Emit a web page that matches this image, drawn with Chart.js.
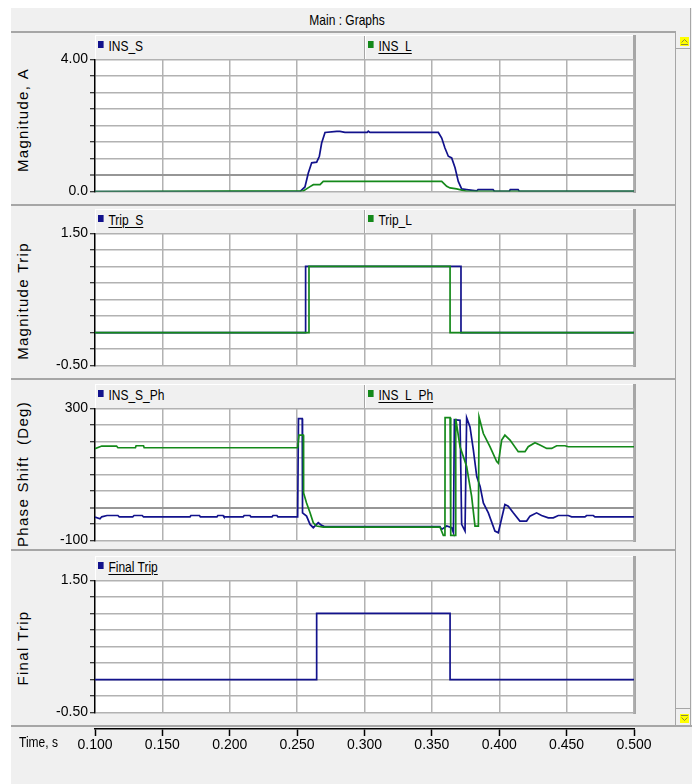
<!DOCTYPE html>
<html>
<head>
<meta charset="utf-8">
<script src="https://cdn.jsdelivr.net/npm/chart.js@4.4.1/dist/chart.umd.min.js"></script>
<style>
  html, body { margin: 0; padding: 0; background: #fff; }
  body { width: 694px; height: 784px; position: relative; overflow: hidden;
         font-family: 'Liberation Sans', Arial, sans-serif; color: #000; }
  .a { position: absolute; }
  #frame { left: 11px; top: 8px; width: 681px; height: 776px; background: #f0f0f0; }
  .hline { height: 2px; background: #a6a6a6; }
  .bar { background: #f0f0f0; border-top: 1px solid #fff; border-left: 1px solid #fff; box-sizing: border-box; }
  .shadow { width: 3px; background: #a6a6a6; }
  .div { width: 1px; background: #a6a6a6; border-right: 1px solid #fff; }
  .narrow { transform: scaleX(0.8); transform-origin: 0 0; white-space: nowrap; }
  .leg { font-size: 15px; line-height: 16px; }
  .leg i { display: inline-block; width: 7px; height: 7px; margin-right: 6px; vertical-align: 3px; }
  .leg u { text-decoration: underline; text-underline-offset: 2px; }
  .ylab { font-size: 15px; letter-spacing: 1.3px;
          white-space: nowrap; transform: translate(-50%, -50%) rotate(-90deg); }
  canvas { position: absolute; left: 0; }
</style>
</head>
<body>
<div id="frame" class="a"></div>
<!-- title bar -->
<div class="a" style="left:11px;top:8px;width:679px;height:24px;border-right:1px solid #a6a6a6;"></div>
<div class="a" style="left:0;top:11px;width:694px;text-align:center;font-size:15px;transform:scaleX(0.8);">Main : Graphs</div>
<div class="a hline" style="left:11px;top:31px;width:665px;"></div>
<div class="a hline" style="left:11px;top:204px;width:665px;"></div>
<div class="a hline" style="left:11px;top:378px;width:665px;"></div>
<div class="a hline" style="left:11px;top:549px;width:665px;"></div>
<div class="a hline" style="left:11px;top:725px;width:681px;"></div>

<!-- scroll bar -->
<div class="a" style="left:675px;top:33px;width:1px;height:692px;background:#a6a6a6;"></div>
<div class="a" style="left:690px;top:8px;width:1px;height:717px;background:#a6a6a6;"></div>
<div class="a" style="left:676px;top:48px;width:14px;height:1px;background:#a6a6a6;"></div>
<div class="a" style="left:676px;top:708px;width:14px;height:1px;background:#a6a6a6;"></div>
<svg class="a" style="left:680px;top:37px" width="9" height="9"><rect width="9" height="9" fill="#ffff00"/><path d="M1.5 5.5 L4.5 2.5 L7.5 5.5" stroke="#8a8a40" fill="none"/><line x1="1" y1="7.5" x2="8" y2="7.5" stroke="#8a8a40"/></svg>
<svg class="a" style="left:680px;top:714px" width="9" height="9"><rect width="9" height="9" fill="#ffff00"/><path d="M1.5 3.5 L4.5 6.5 L7.5 3.5" stroke="#8a8a40" fill="none"/><line x1="1" y1="1.5" x2="8" y2="1.5" stroke="#8a8a40"/></svg>

<div id="deco"></div>

<canvas id="c1" width="694" height="153" style="top:49px"></canvas>
<canvas id="c2" width="694" height="153" style="top:223px"></canvas>
<canvas id="c3" width="694" height="153" style="top:398px"></canvas>
<canvas id="c4" width="694" height="153" style="top:570px"></canvas>
<canvas id="cx" width="694" height="40" style="top:720px"></canvas>
<div class="a narrow" style="left:19px;top:733px;font-size:15px;">Time, s</div>

<script>
// ---- values ----
const timeTicks = ['0.100', '0.150', '0.200', '0.250', '0.300', '0.350', '0.400', '0.450', '0.500'];
const magLabels = ['0.0', '4.00'];
const tripLabels = ['-0.50', '1.50'];
const phaseLabels = ['-100', '300'];

// Magnitude, A
const insS_t = [0.100, 0.2521, 0.2558, 0.2583, 0.2608, 0.2645, 0.2665, 0.2682, 0.2707, 0.2794, 0.2818, 0.2855, 0.3020, 0.3028, 0.3040, 0.3548,
                0.3573, 0.3597, 0.3622, 0.3647, 0.3672, 0.3696, 0.3721, 0.3758, 0.3833, 0.3843, 0.3954, 0.3964, 0.4075, 0.4082, 0.4140, 0.4148, 0.500];
const insS   = [0, 0, 0.14, 0.56, 0.87, 0.89, 1.07, 1.47, 1.79, 1.82, 1.82, 1.79, 1.79, 1.83, 1.79, 1.79,
                1.62, 1.32, 1.07, 1.02, 0.72, 0.31, 0.08, 0.06, 0.02, 0.06, 0.06, 0.01, 0.01, 0.06, 0.06, 0.01, 0.01];
const insL_t = [0.100, 0.2546, 0.2596, 0.2620, 0.2670, 0.2694, 0.3573, 0.3610, 0.3635, 0.3684, 0.3758, 0.500];
const insL   = [0, 0.02, 0.15, 0.21, 0.21, 0.31, 0.31, 0.16, 0.11, 0.08, 0.01, 0.01];

// Magnitude Trip
const tripS_t = [0.100, 0.2563, 0.2563, 0.3716, 0.3716, 0.500];
const tripS   = [0, 0, 1, 1, 0, 0];
const tripL_t = [0.100, 0.2588, 0.2588, 0.3635, 0.3635, 0.500];
const tripL   = [0, 0, 1, 1, 0, 0];

// Phase Shift (Deg)
const phS_t = [0.100, 0.1037, 0.1050, 0.1089, 0.1170, 0.1180, 0.1280, 0.1290, 0.1350, 0.1360, 0.1705, 0.1712, 0.1775, 0.1782, 0.1905, 0.1912, 0.1950, 0.1957,
               0.2100, 0.2107, 0.2150, 0.2157, 0.2314, 0.2321, 0.2350, 0.2357, 0.2504, 0.2510, 0.2538, 0.2540, 0.2570, 0.2596, 0.2620, 0.2657, 0.2682, 0.2707,
               0.3560, 0.3573, 0.3610, 0.3647, 0.3660, 0.3667, 0.3709, 0.3721, 0.3746, 0.3758, 0.3783, 0.3808, 0.3833, 0.3858, 0.3882, 0.3919, 0.3968, 0.3993,
               0.4042, 0.4067, 0.4104, 0.4153, 0.4203, 0.4228, 0.4277, 0.4314, 0.4364, 0.4401, 0.4438, 0.4512, 0.4537, 0.4636, 0.4648, 0.4698, 0.4710, 0.500];
const phS   = [-29, -34, -28, -24, -24, -28, -28, -24, -24, -28, -28, -24, -24, -28, -28, -24, -24, -28,
               -28, -24, -24, -28, -28, -24, -24, -28, -28, 269, 269, -16, -26, -51, -61, -46, -54, -58,
               -58, -66, -56, -61, -76, 266, 264, -51, -71, 272, 244, 174, 94, 64, 14, -16, -71, -76,
               9, 4, -16, -41, -41, -26, -16, -24, -31, -31, -24, -24, -28, -28, -24, -24, -28, -28];
const phL_t = [0.100, 0.1050, 0.1160, 0.1170, 0.1300, 0.1305, 0.1360, 0.1365, 0.2504, 0.2514, 0.2546, 0.2548, 0.2570, 0.2596, 0.2620, 0.2645, 0.2694,
               0.3560, 0.3585, 0.3597, 0.3598, 0.3635, 0.3640, 0.3672, 0.3677, 0.3709, 0.3758, 0.3795, 0.3820, 0.3845, 0.3850, 0.3882, 0.3931, 0.3981, 0.3993,
               0.4018, 0.4042, 0.4080, 0.4141, 0.4191, 0.4215, 0.4265, 0.4302, 0.4352, 0.4389, 0.4426, 0.4488, 0.4512, 0.500];
const phL   = [178, 186, 186, 181, 181, 187, 187, 181, 181, 219, 219, 44, 14, -16, -46, -56, -59,
               -59, -84, -84, 272, 272, -84, -84, 269, 184, 124, 34, -56, -56, 274, 224, 184, 139, 134,
               204, 219, 204, 169, 169, 184, 196, 189, 179, 179, 187, 187, 184, 184];

// Final Trip
const final_t = [0.100, 0.2645, 0.2645, 0.3635, 0.3635, 0.500];
const finalTrip = [0, 0, 1, 1, 0, 0];

const BLUE = '#12128c';
const GREEN = '#14891a';
const tickFont = { family: "'Liberation Sans', Arial, sans-serif", size: 14 };

const pts = (t, v) => t.map((x, i) => ({ x, y: v[i] }));

// layout of the four graph panels (page pixels)
const panels = [
  { id: 'c1', top: 59, bottom: 192, min: 0, max: 4, step: 0.5, labels: magLabels, dark: 0.5, title: 'Magnitude, A', titleY: 120,
    legend: [['INS_S', BLUE, false], ['INS_L', GREEN, true]],
    sets: [{ label: 'INS_S', data: pts(insS_t, insS), borderColor: BLUE, order: 2 },
           { label: 'INS_L', data: pts(insL_t, insL), borderColor: GREEN, order: 1 }] },
  { id: 'c2', top: 233, bottom: 366, min: -0.5, max: 1.5, step: 0.25, labels: tripLabels, dark: null, title: 'Magnitude Trip', titleY: 301,
    legend: [['Trip_S', BLUE, true], ['Trip_L', GREEN, false]],
    sets: [{ label: 'Trip_S', data: pts(tripS_t, tripS), borderColor: BLUE, order: 2 },
           { label: 'Trip_L', data: pts(tripL_t, tripL), borderColor: GREEN, order: 1 }] },
  { id: 'c3', top: 408, bottom: 541, min: -100, max: 300, step: 50, labels: phaseLabels, dark: 0, title: 'Phase Shift  (Deg)', titleY: 474,
    legend: [['INS_S_Ph', BLUE, false], ['INS_L_Ph', GREEN, true]],
    sets: [{ label: 'INS_S_Ph', data: pts(phS_t, phS), borderColor: BLUE, order: 2 },
           { label: 'INS_L_Ph', data: pts(phL_t, phL), borderColor: GREEN, order: 1 }] },
  { id: 'c4', top: 580, bottom: 713, min: -0.5, max: 1.5, step: 0.25, labels: tripLabels, dark: null, title: 'Final Trip', titleY: 648,
    legend: [['Final Trip', BLUE, true]],
    sets: [{ label: 'Final Trip', data: pts(final_t, finalTrip), borderColor: BLUE, order: 1 }] }
];

const PLOT_L = 95, PLOT_R = 634, PAD = 10;

const whiteBg = {
  id: 'whiteBg',
  beforeDraw(c) {
    const a = c.chartArea;
    c.ctx.save();
    c.ctx.fillStyle = '#fff';
    c.ctx.fillRect(a.left, a.top, a.right - a.left, a.bottom - a.top);
    c.ctx.restore();
  }
};

// panel decorations: legend bar, shadow edge, y title
const deco = document.getElementById('deco');
panels.forEach(p => {
  const barTop = p.top - 24;
  let html = `<div class="a bar" style="left:${PLOT_L}px;top:${barTop}px;width:${PLOT_R - PLOT_L}px;height:24px;"></div>`;
  html += `<div class="a shadow" style="left:${PLOT_R - 1}px;top:${barTop}px;height:${p.bottom - barTop + 1}px;"></div>`;
  if (p.legend.length > 1) html += `<div class="a div" style="left:364px;top:${barTop + 1}px;height:23px;"></div>`;
  p.legend.forEach((l, i) => {
    const x = i === 0 ? 98 : 368;
    const txt = l[2] ? `<u>${l[0]}</u>` : l[0];
    html += `<div class="a leg narrow" style="left:${x}px;top:${barTop + 3}px;"><i style="background:${l[1]}"></i>${txt}</div>`;
  });
  html += `<div class="a ylab" style="left:22px;top:${p.titleY}px;">${p.title.replace(/ /g, '&nbsp;')}</div>`;
  deco.insertAdjacentHTML('beforeend', html);
});

panels.forEach(p => {
  const cv = document.getElementById(p.id);
  cv.style.top = (p.top - PAD) + 'px';
  cv.height = p.bottom - p.top + 2 * PAD;
  new Chart(cv, {
    type: 'line',
    data: { datasets: p.sets.map(s => Object.assign({ borderWidth: 1.7, pointRadius: 0, tension: 0, fill: false }, s)) },
    options: {
      responsive: false, animation: false, events: [],
      layout: { padding: { top: PAD, bottom: PAD, left: 0, right: 694 - PLOT_R } },
      plugins: { legend: { display: false }, tooltip: { enabled: false } },
      scales: {
        x: {
          type: 'linear', min: 0.1, max: 0.5,
          ticks: { stepSize: 0.05, display: false },
          grid: { drawTicks: false, lineWidth: 1.5, color: c => c.index === 0 ? 'rgba(0,0,0,0)' : '#b2b2b2' },
          border: { display: false },
          afterFit: s => { s.height = 0; }
        },
        y: {
          min: p.min, max: p.max,
          ticks: {
            stepSize: p.step, autoSkip: false, color: '#000', font: tickFont, padding: 2,
            callback: (v, i, t) => i === 0 ? p.labels[0] : (i === t.length - 1 ? p.labels[1] : '')
          },
          grid: {
            tickLength: 5, tickColor: '#000', tickWidth: 1,
            color: c => (p.dark !== null && c.tick && Math.abs(c.tick.value - p.dark) < 1e-9) ? '#969696' : '#b2b2b2',
            lineWidth: c => (p.dark !== null && c.tick && Math.abs(c.tick.value - p.dark) < 1e-9) ? 2 : 1.5
          },
          border: { color: '#000', width: 1.5 },
          afterFit: s => { s.width = PLOT_L; }
        }
      }
    },
    plugins: [whiteBg]
  });
});

// shared time axis
new Chart(document.getElementById('cx'), {
  type: 'scatter',
  data: { datasets: [] },
  options: {
    responsive: false, animation: false, events: [],
    layout: { padding: { top: 8, bottom: 0, left: PLOT_L, right: 694 - PLOT_R } },
    plugins: { legend: { display: false }, tooltip: { enabled: false } },
    scales: {
      x: {
        type: 'linear', position: 'bottom', min: 0.1, max: 0.5,
        ticks: { stepSize: 0.05, autoSkip: false, maxRotation: 0, color: '#000', font: tickFont, padding: 1,
                 callback: (v, i) => timeTicks[i] },
        grid: { drawOnChartArea: false, tickLength: 7, tickColor: '#000', tickWidth: 1.5 },
        border: { color: '#000', width: 1.5 },
        afterFit: s => { s.height = 31; }
      },
      y: { display: false }
    }
  }
});
</script>
</body>
</html>
